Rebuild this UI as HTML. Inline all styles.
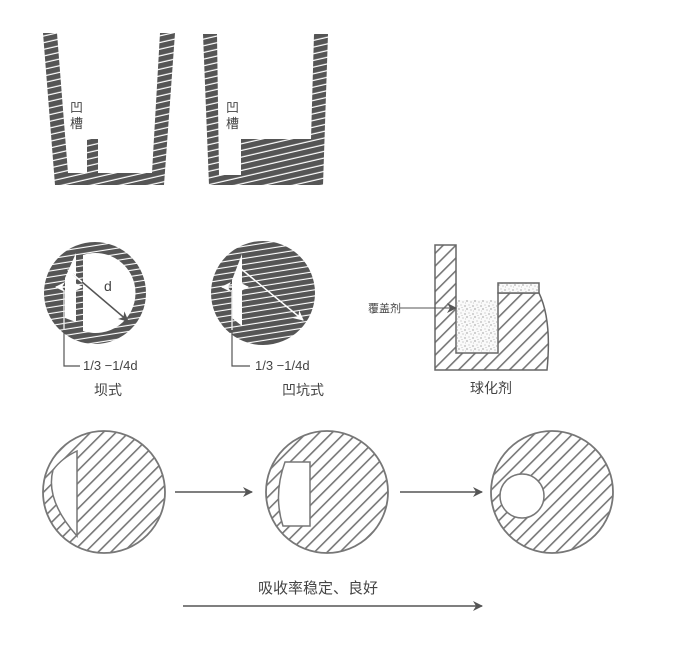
<!DOCTYPE html>
<html><head><meta charset="utf-8"><style>
html,body{margin:0;padding:0;background:#fff;}
svg{display:block;}
text{font-family:"Liberation Sans","Noto Sans CJK SC",sans-serif;fill:#444;}
</style></head><body>
<svg width="689" height="663" viewBox="0 0 689 663" xmlns="http://www.w3.org/2000/svg">
<defs>
<pattern id="dk" width="12" height="6.5" patternUnits="userSpaceOnUse" patternTransform="rotate(-13)">
<rect width="12" height="6.5" fill="#555"/><rect y="5.3" width="12" height="1.2" fill="#fff"/>
</pattern>
<pattern id="dk2" width="12" height="6" patternUnits="userSpaceOnUse" patternTransform="rotate(-9)">
<rect width="12" height="6" fill="#555"/><rect y="4.9" width="12" height="1.1" fill="#fff"/>
</pattern>
<pattern id="lt" width="9" height="9" patternUnits="userSpaceOnUse" patternTransform="rotate(45)">
<rect width="9" height="9" fill="#fff"/><rect x="0" width="1.6" height="9" fill="#777"/>
</pattern>
<pattern id="sp" width="8" height="8" patternUnits="userSpaceOnUse">
<rect width="8" height="8" fill="#fafafa"/>
<circle cx="1" cy="2" r="0.6" fill="#777"/><circle cx="5" cy="1" r="0.5" fill="#999"/>
<circle cx="3" cy="5" r="0.6" fill="#666"/><circle cx="7" cy="6" r="0.5" fill="#888"/>
<circle cx="6" cy="3.5" r="0.4" fill="#777"/><circle cx="1.5" cy="7" r="0.4" fill="#999"/>
</pattern>
<marker id="ah" markerWidth="10" markerHeight="10" refX="9" refY="5" orient="auto" markerUnits="userSpaceOnUse">
<path d="M0,0 L10,5 L0,10 L3,5 Z" fill="#555"/></marker>
<marker id="wh" markerWidth="10" markerHeight="10" refX="9" refY="5" orient="auto-start-reverse" markerUnits="userSpaceOnUse">
<path d="M0,0 L10,5 L0,10 L3,5 Z" fill="#fff"/></marker>
</defs>

<!-- top crucible 1 -->
<path d="M43,33 L57,33 L68,173 L87,173 L87,139 L98,139 L98,173 L152,173 L160,33 L175,33 L164,185 L55,185 Z" fill="url(#dk)"/>
<text x="70" y="112" font-size="13">凹</text>
<text x="70" y="128" font-size="13">槽</text>
<!-- top crucible 2 -->
<path d="M203,34 L217,34 L219,175 L241,175 L241,139 L311,139 L314,34 L328,34 L323,185 L209,185 Z" fill="url(#dk)"/>
<text x="226" y="112" font-size="13">凹</text>
<text x="226" y="128" font-size="13">槽</text>

<!-- middle circle 1 (坝式) -->
<circle cx="95" cy="293" r="51" fill="url(#dk2)"/>
<path d="M83,255 A40,40 0 1 1 83,331 Z" fill="#fff"/>
<path d="M76,253 L65,278 L65,318 L76,322 Z" fill="#fff"/>
<line x1="68" y1="270" x2="128" y2="321" stroke="#555" stroke-width="1.5" marker-end="url(#ah)"/>
<line x1="68" y1="270" x2="82" y2="282" stroke="#fff" stroke-width="1.5" marker-start="url(#wh)"/>
<line x1="56" y1="287" x2="82" y2="287" stroke="#fff" stroke-width="1.5" marker-start="url(#wh)" marker-end="url(#wh)"/>
<text x="104" y="291" font-size="14">d</text>
<polyline points="64,290 64,366 80,366" fill="none" stroke="#555" stroke-width="1.2"/>
<line x1="64" y1="290" x2="64" y2="330" stroke="#fff" stroke-width="1.2"/>
<text x="83" y="370" font-size="13">1/3 −1/4d</text>
<text x="94" y="395" font-size="14">坝式</text>

<!-- middle circle 2 (凹坑式) -->
<circle cx="263" cy="293" r="52" fill="url(#dk2)"/>
<path d="M242,254 L232,280 L232,318 L242,326 Z" fill="#fff"/>
<line x1="240" y1="268" x2="303" y2="320" stroke="#fff" stroke-width="1.5" marker-end="url(#wh)"/>
<line x1="222" y1="287" x2="248" y2="287" stroke="#fff" stroke-width="1.5" marker-start="url(#wh)" marker-end="url(#wh)"/>
<polyline points="232,290 232,366 250,366" fill="none" stroke="#555" stroke-width="1.2"/>
<line x1="232" y1="290" x2="232" y2="330" stroke="#fff" stroke-width="1.2"/>
<text x="255" y="370" font-size="13">1/3 −1/4d</text>
<text x="282" y="395" font-size="14">凹坑式</text>

<!-- 球化剂 -->
<path d="M435,245 L456,245 L456,353 L498,353 L498,293 L539,293 Q552,320 547,370 L435,370 Z" fill="url(#lt)" stroke="#666" stroke-width="1.5"/>
<rect x="457" y="300" width="40" height="52" fill="url(#sp)"/>
<rect x="498" y="283" width="41" height="10" fill="url(#sp)" stroke="#666" stroke-width="1.5"/>
<line x1="400" y1="308" x2="456" y2="308" stroke="#555" stroke-width="1" marker-end="url(#ah)"/>
<text x="368" y="312" font-size="11">覆盖剂</text>
<text x="470" y="393" font-size="14">球化剂</text>

<!-- bottom circles -->
<circle cx="104" cy="492" r="61" fill="url(#lt)" stroke="#777" stroke-width="1.8"/>
<path d="M77,451 L77,536 Q45,500 53,470 Q62,458 77,451 Z" fill="#fff" stroke="#777" stroke-width="1.5"/>
<line x1="175" y1="492" x2="252" y2="492" stroke="#555" stroke-width="1.5" marker-end="url(#ah)"/>

<circle cx="327" cy="492" r="61" fill="url(#lt)" stroke="#777" stroke-width="1.8"/>
<path d="M285,462 L310,462 L310,526 L283,526 Q273,495 285,462 Z" fill="#fff" stroke="#777" stroke-width="1.5"/>
<line x1="400" y1="492" x2="482" y2="492" stroke="#555" stroke-width="1.5" marker-end="url(#ah)"/>

<circle cx="552" cy="492" r="61" fill="url(#lt)" stroke="#777" stroke-width="1.8"/>
<circle cx="522" cy="496" r="22" fill="#fff" stroke="#777" stroke-width="1.5"/>

<text x="258" y="593" font-size="15">吸收率稳定、良好</text>
<line x1="183" y1="606" x2="482" y2="606" stroke="#555" stroke-width="1.5" marker-end="url(#ah)"/>
</svg>
</body></html>
